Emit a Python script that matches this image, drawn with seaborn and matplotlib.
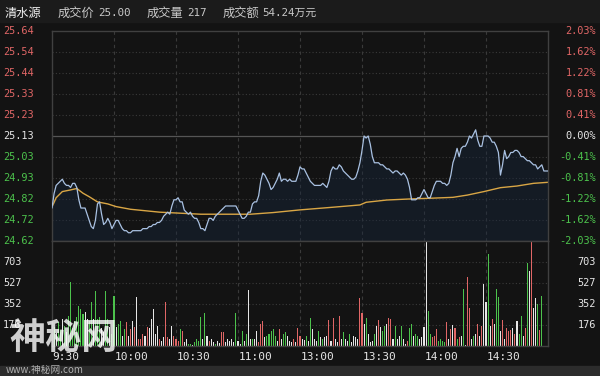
import numpy as np
import pandas as pd
import matplotlib
matplotlib.use("Agg")
import matplotlib.pyplot as plt
import matplotlib.transforms as mtransforms
from matplotlib.patches import Rectangle
import seaborn as sns

# ---------------- data ----------------
prev_close = 25.13

price = [
    24.78, 24.85, 24.89, 24.90, 24.91, 24.92, 24.90, 24.89, 24.89, 24.88,
    24.90, 24.90, 24.88, 24.82, 24.78, 24.78, 24.78, 24.75, 24.72, 24.69,
    24.68, 24.72, 24.80, 24.81, 24.75, 24.70, 24.71, 24.73, 24.71, 24.68,
    24.70, 24.72, 24.72, 24.70, 24.68, 24.67, 24.67, 24.66, 24.66, 24.67,
    24.67, 24.67, 24.67, 24.67, 24.68, 24.68, 24.68, 24.69, 24.69, 24.70,
    24.70, 24.71, 24.71, 24.72, 24.74, 24.75, 24.76, 24.75, 24.79, 24.82,
    24.82, 24.83, 24.81, 24.81, 24.77, 24.76, 24.75, 24.76, 24.74, 24.73,
    24.73, 24.71, 24.68, 24.68, 24.67, 24.70, 24.73, 24.73, 24.72, 24.74,
    24.75, 24.76, 24.77, 24.78, 24.79, 24.79, 24.79, 24.79, 24.79, 24.79,
    24.77, 24.75, 24.73, 24.73, 24.74, 24.76, 24.76, 24.80, 24.81, 24.81,
    24.84, 24.91, 24.95, 24.94, 24.92, 24.90, 24.87, 24.88, 24.90, 24.92,
    24.95, 24.91, 24.92, 24.92, 24.91, 24.92, 24.91, 24.91, 24.91, 24.94,
    24.98, 24.97, 24.97, 24.95, 24.93, 24.91, 24.90, 24.89, 24.89, 24.89,
    24.89, 24.90, 24.89, 24.88, 24.91, 24.96, 24.98, 24.97, 24.97, 24.99,
    24.98, 24.96, 24.95, 24.94, 24.93, 24.92, 24.92, 24.93, 24.96, 25.00,
    25.06, 25.13, 25.12, 25.13, 25.09, 25.03, 25.00, 25.00, 25.00, 24.99,
    24.99, 24.98, 24.97, 24.97, 24.96, 24.95, 24.96, 24.96, 24.95, 24.94,
    24.95, 24.94, 24.92, 24.88, 24.82, 24.82, 24.82, 24.83, 24.83, 24.85,
    24.87, 24.85, 24.83, 24.83, 24.86, 24.89, 24.91, 24.91, 24.91, 24.90,
    24.90, 24.89, 24.90, 24.94, 25.00, 25.03, 25.07, 25.03, 25.07, 25.08,
    25.08, 25.10, 25.13, 25.12, 25.14, 25.16, 25.11, 25.08, 25.08, 25.13,
    25.13, 25.13, 25.12, 25.10, 25.10, 25.08, 25.05, 24.94, 24.99, 25.06,
    25.02, 25.03, 25.05, 25.05, 25.06, 25.06, 25.05, 25.03, 25.03, 25.02,
    25.01, 25.01, 25.00, 24.99, 24.99, 24.97, 24.98, 24.99, 24.96, 24.96,
    24.96,
]

volume = [
    296, 160, 110, 200, 130, 230, 170, 120, 250, 533,
    150, 212, 240, 338, 310, 268, 282, 226, 212, 365,
    226, 463, 226, 240, 150, 120, 463, 226, 156, 100,
    416, 156, 184, 212, 86, 142, 198, 86, 142, 212,
    156, 407, 60, 59, 100, 86, 156, 150, 226, 310,
    100, 170, 59, 40, 73, 365, 73, 59, 170, 86,
    59, 40, 142, 128, 31, 59, 17, 20, 10, 31,
    59, 45, 240, 59, 276, 86, 45, 59, 31, 17,
    45, 25, 114, 114, 31, 59, 45, 59, 31, 276,
    45, 17, 128, 45, 100, 469, 59, 59, 59, 128,
    31, 184, 212, 73, 86, 100, 128, 142, 86, 45,
    142, 59, 100, 114, 86, 45, 31, 59, 31, 150,
    86, 59, 53, 86, 45, 234, 142, 59, 45, 128,
    73, 59, 73, 86, 220, 45, 231, 59, 31, 248,
    59, 120, 59, 45, 100, 31, 86, 73, 59, 399,
    276, 184, 237, 100, 31, 45, 100, 165, 220, 156,
    128, 170, 184, 234, 226, 59, 165, 59, 86, 165,
    59, 17, 45, 148, 184, 86, 100, 86, 59, 73,
    156, 890, 296, 100, 73, 86, 142, 45, 59, 45,
    36, 204, 59, 142, 176, 148, 59, 73, 86, 477,
    10, 575, 315, 59, 86, 100, 184, 86, 170, 519,
    371, 770, 165, 226, 184, 477, 407, 128, 220, 59,
    148, 128, 137, 148, 100, 212, 100, 254, 86, 148,
    695, 630, 880, 315, 399, 352, 137, 416, 0, 0,
    0,
]

# r = up tick, g = down tick, w = unchanged
direction = (
    "wgwggwgwgg" "ggggggwwgg" "wgggwwggwg" "gwggwgrwrw" "rwrrrwrwww"
    "wwrwwrrwwr" "rrgrwwggwg" "gggwgwrwwg" "wwrrwwwwwg" "wwgwgwwgww"
    "rrrwgggggw" "rwggwwwrwr" "rwwgwgwwwg" "wgwwrwrwwr" "wgwwgwwwwr"
    "rwgwwwgwrw" "ggwrrwgwwg" "wwrggwggww" "wwggrrrggg" "grwrwrgrwg"
    "wrrwgwrwrw" "wgwrwggwrw" "rrrwrwggwr" "gwrwwgrgww" "w"
)

avg_minute = [0, 2, 5, 9, 12, 15, 18, 22, 27, 31, 38, 46, 52, 56, 72, 96,
              107, 120, 136, 149, 152, 162, 173, 184, 194, 201, 209, 217,
              225, 233, 240]
avg_price = [24.785, 24.83, 24.86, 24.868, 24.875, 24.852, 24.835, 24.81,
             24.80, 24.787, 24.774, 24.766, 24.76, 24.758, 24.75, 24.75,
             24.758, 24.771, 24.784, 24.795, 24.808, 24.819, 24.824, 24.828,
             24.832, 24.843, 24.86, 24.879, 24.887, 24.90, 24.905]

price_labels = ["25.64", "25.54", "25.44", "25.33", "25.23", "25.13",
                "25.03", "24.93", "24.82", "24.72", "24.62"]
pct_labels = ["2.03%", "1.62%", "1.22%", "0.81%", "0.41%", "0.00%",
              "-0.41%", "-0.81%", "-1.22%", "-1.62%", "-2.03%"]
vol_ticks = [176, 352, 527, 703]
vol_max = 879
time_ticks = [0, 30, 60, 90, 120, 150, 180, 210]
time_labels = ["9:30", "10:00", "10:30", "11:00", "13:00", "13:30", "14:00", "14:30"]

stock_name = "清水源"
header_labels = ["成交价", "成交量", "成交额"]
header_values = ["25.00", "217", "54.24万元"]
watermark = "神秘网"
watermark_url = "www.神秘网.com"

# ---------------- style ----------------
BG = "#131313"
GRID = "#3a3a3a"
RED = "#e06666"
GREEN = "#4cc24c"
WHITE = "#e6e6e6"
LINE = "#a9c1e2"
AVG = "#d9a645"

sns.set_theme(style="dark", rc={"axes.facecolor": BG, "figure.facecolor": BG})
plt.rcParams["font.family"] = ["DejaVu Sans Mono", "Noto Sans CJK SC"]
CJK = ["Noto Sans CJK SC", "DejaVu Sans"]
MONO = ["DejaVu Sans Mono", "Noto Sans CJK SC"]

W, H = 600, 376
fig = plt.figure(figsize=(W / 100, H / 100), dpi=100, facecolor=BG)


def fx(px):
    return px / W


def fy(py):
    return 1 - py / H


L, R = 52, 548
P_TOP, P_BOT = 31, 241
V_BOT = 346

ax1 = fig.add_axes([fx(L), fy(P_BOT), fx(R) - fx(L), fy(P_TOP) - fy(P_BOT)])
ax2 = fig.add_axes([fx(L), fy(V_BOT), fx(R) - fx(L), fy(P_BOT) - fy(V_BOT)])

# bands
fig.patches.append(Rectangle((0, fy(22)), 1, 1 - fy(22), transform=fig.transFigure,
                             color="#1b1b1b", zorder=-1))
fig.patches.append(Rectangle((0, 0), 1, fy(366), transform=fig.transFigure,
                             color="#2c2c2c", zorder=-1))

lo = prev_close * (1 - 0.0203)
hi = prev_close * (1 + 0.0203)
levels = np.linspace(hi, lo, len(price_labels))

minutes = np.arange(len(price))
df = pd.DataFrame({"minute": minutes, "price": price})
adf = pd.DataFrame({"minute": avg_minute, "avg": avg_price})
vdf = pd.DataFrame({"minute": np.arange(len(volume)), "volume": volume,
                    "dir": list(direction)})
color_map = {"r": RED, "g": GREEN, "w": WHITE}

for ax in (ax1, ax2):
    ax.set_facecolor(BG)
    ax.set_xlim(0, 240)
    for s in ax.spines.values():
        s.set_color("#404040")
        s.set_linewidth(1)
        s.set_visible(True)
    for t in time_ticks[1:]:
        ax.axvline(t, color=GRID, lw=0.8, ls=(0, (3, 3)), zorder=0)

ax1.set_ylim(lo, hi)
for i, lv in enumerate(levels):
    if i == 5:
        ax1.axhline(lv, color="#555555", lw=0.9, zorder=0)
    elif 0 < i < len(levels) - 1:
        ax1.axhline(lv, color=GRID, lw=0.8, ls=(0, (1, 2)), zorder=0)

ax1.fill_between(minutes, price, lo, color="#17273d", alpha=0.42, lw=0, zorder=1)
sns.lineplot(data=df, x="minute", y="price", ax=ax1, color=LINE, lw=0.9, zorder=3)
sns.lineplot(data=adf, x="minute", y="avg", ax=ax1, color=AVG, lw=1.0, zorder=2)

ax2.set_ylim(0, vol_max)
for v in vol_ticks:
    ax2.axhline(v, color=GRID, lw=0.8, ls=(0, (1, 2)), zorder=0)
ax2.bar(vdf["minute"], vdf["volume"], width=0.5,
        color=[color_map[d] for d in vdf["dir"]], linewidth=0, zorder=2)
ax2.set_xlim(0, 240)
ax2.set_ylim(0, vol_max)

for ax in (ax1, ax2):
    ax.set_xticks([])
    ax.set_yticks([])
    ax.set_xlabel("")
    ax.set_ylabel("")

# axis labels
tr_l1 = mtransforms.blended_transform_factory(fig.transFigure, ax1.transData)
for i, (lv, lab, pl) in enumerate(zip(levels, price_labels, pct_labels)):
    c = RED if i < 5 else (WHITE if i == 5 else GREEN)
    ax1.text(fx(3), lv, lab, transform=tr_l1, ha="left", va="center",
             color=c, fontsize=7.4, family=MONO)
    ax1.text(fx(596), lv, pl, transform=tr_l1, ha="right", va="center",
             color=c, fontsize=7.4, family=MONO)

tr_l2 = mtransforms.blended_transform_factory(fig.transFigure, ax2.transData)
for v in vol_ticks:
    ax2.text(fx(3), v, str(v), transform=tr_l2, ha="left", va="center",
             color=WHITE, fontsize=7.4, family=MONO)
    ax2.text(fx(596), v, str(v), transform=tr_l2, ha="right", va="center",
             color=WHITE, fontsize=7.4, family=MONO)

tr_t = mtransforms.blended_transform_factory(ax2.transData, fig.transFigure)
for t, lab in zip(time_ticks, time_labels):
    ax2.text(t + 0.3, fy(357), lab, transform=tr_t, ha="left", va="center",
             color=WHITE, fontsize=8.0, family=MONO)

# header
fig.text(fx(5), fy(13), stock_name, ha="left", va="center", color="#f2f2f2",
         fontsize=8.8, family=CJK)
label_x = [58, 147, 223]
value_x = [98, 187, 262]
for lx, vx, lab, val in zip(label_x, value_x, header_labels, header_values):
    fig.text(fx(lx), fy(13), lab, ha="left", va="center", color="#c8c8c8",
             fontsize=8.8, family=CJK)
    fig.text(fx(vx), fy(13), val, ha="left", va="center", color="#c8c8c8",
             fontsize=7.8, family=MONO)

# watermark (overlays the chart as in the source picture)
fig.text(fx(9), fy(338), watermark, ha="left", va="center", color="white",
         alpha=0.8, fontsize=26, family=CJK, fontweight="bold")
fig.text(fx(6), fy(370), watermark_url, ha="left", va="center", color="#d0d0d0",
         alpha=0.8, fontsize=7, family=CJK, style="italic")

fig.savefig("out.png", dpi=100, facecolor=fig.get_facecolor())
